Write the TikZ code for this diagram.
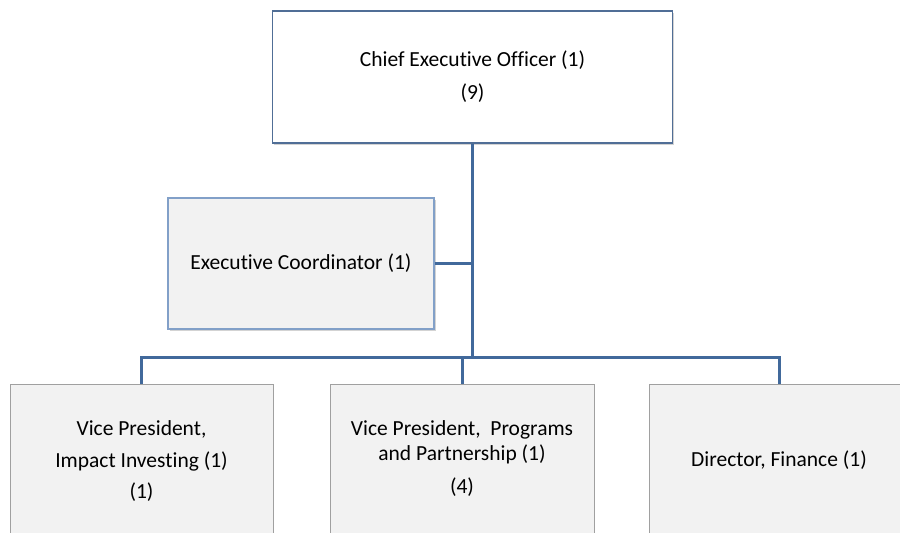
\documentclass[tikz,border=0pt]{standalone}
\usepackage{fontspec}
\setmainfont{Carlito}[Ligatures=NoCommon]
\usetikzlibrary{shadows}
\definecolor{conn}{RGB}{65,105,155}
\definecolor{topborder}{RGB}{80,110,150}
\definecolor{ecborder}{RGB}{130,160,200}
\definecolor{boxfill}{RGB}{242,242,242}
\definecolor{botborder}{RGB}{160,160,160}
\begin{document}
\begin{tikzpicture}[x=1pt,y=-1pt,
  every node/.style={font=\fontsize{21.5}{32}\selectfont, align=center, inner sep=0pt},
  topbox/.style={draw=topborder, line width=1.5pt, fill=white, drop shadow={shadow xshift=1.5pt, shadow yshift=-1.5pt, opacity=0.35}},
  ecbox/.style={draw=ecborder, line width=1.5pt, fill=boxfill, drop shadow={shadow xshift=1.5pt, shadow yshift=-1.5pt, opacity=0.35}},
  botbox/.style={draw=botborder, line width=1pt, fill=boxfill},
  link/.style={draw=conn, line width=3pt, line join=miter}]
\useasboundingbox (0,0) rectangle (900,533);
\node[topbox, minimum width=400pt, minimum height=132pt] (ceo) at (472.5,77) {Chief Executive Officer (1)\\[1pt](9)};
\node[ecbox, minimum width=266pt, minimum height=131pt] (ec) at (301,263.5) {Executive Coordinator (1)};
\node[botbox, minimum width=263pt, minimum height=155pt] (vp1) at (141.5,461.5) {Vice President,\\Impact Investing (1)\\[-1pt](1)};
\node[botbox, minimum width=264pt, minimum height=150pt] (vp2) at (462,459) {Vice President,\ \ Programs\\[-7pt]and Partnership (1)\\[1pt](4)};
\node[botbox, minimum width=260pt, minimum height=152pt] (vp3) at (779,460) {Director, Finance (1)};
\coordinate (j) at (472.5,357);
\draw[link] (ceo.south) -- (j);
\draw[link] (ec.east) -- (ec.east -| ceo.south);
\draw[link] (vp1.north) |- (j) -| (vp3.north);
\draw[link] (vp2.north) -- (vp2.north |- j);
\end{tikzpicture}
\end{document}
